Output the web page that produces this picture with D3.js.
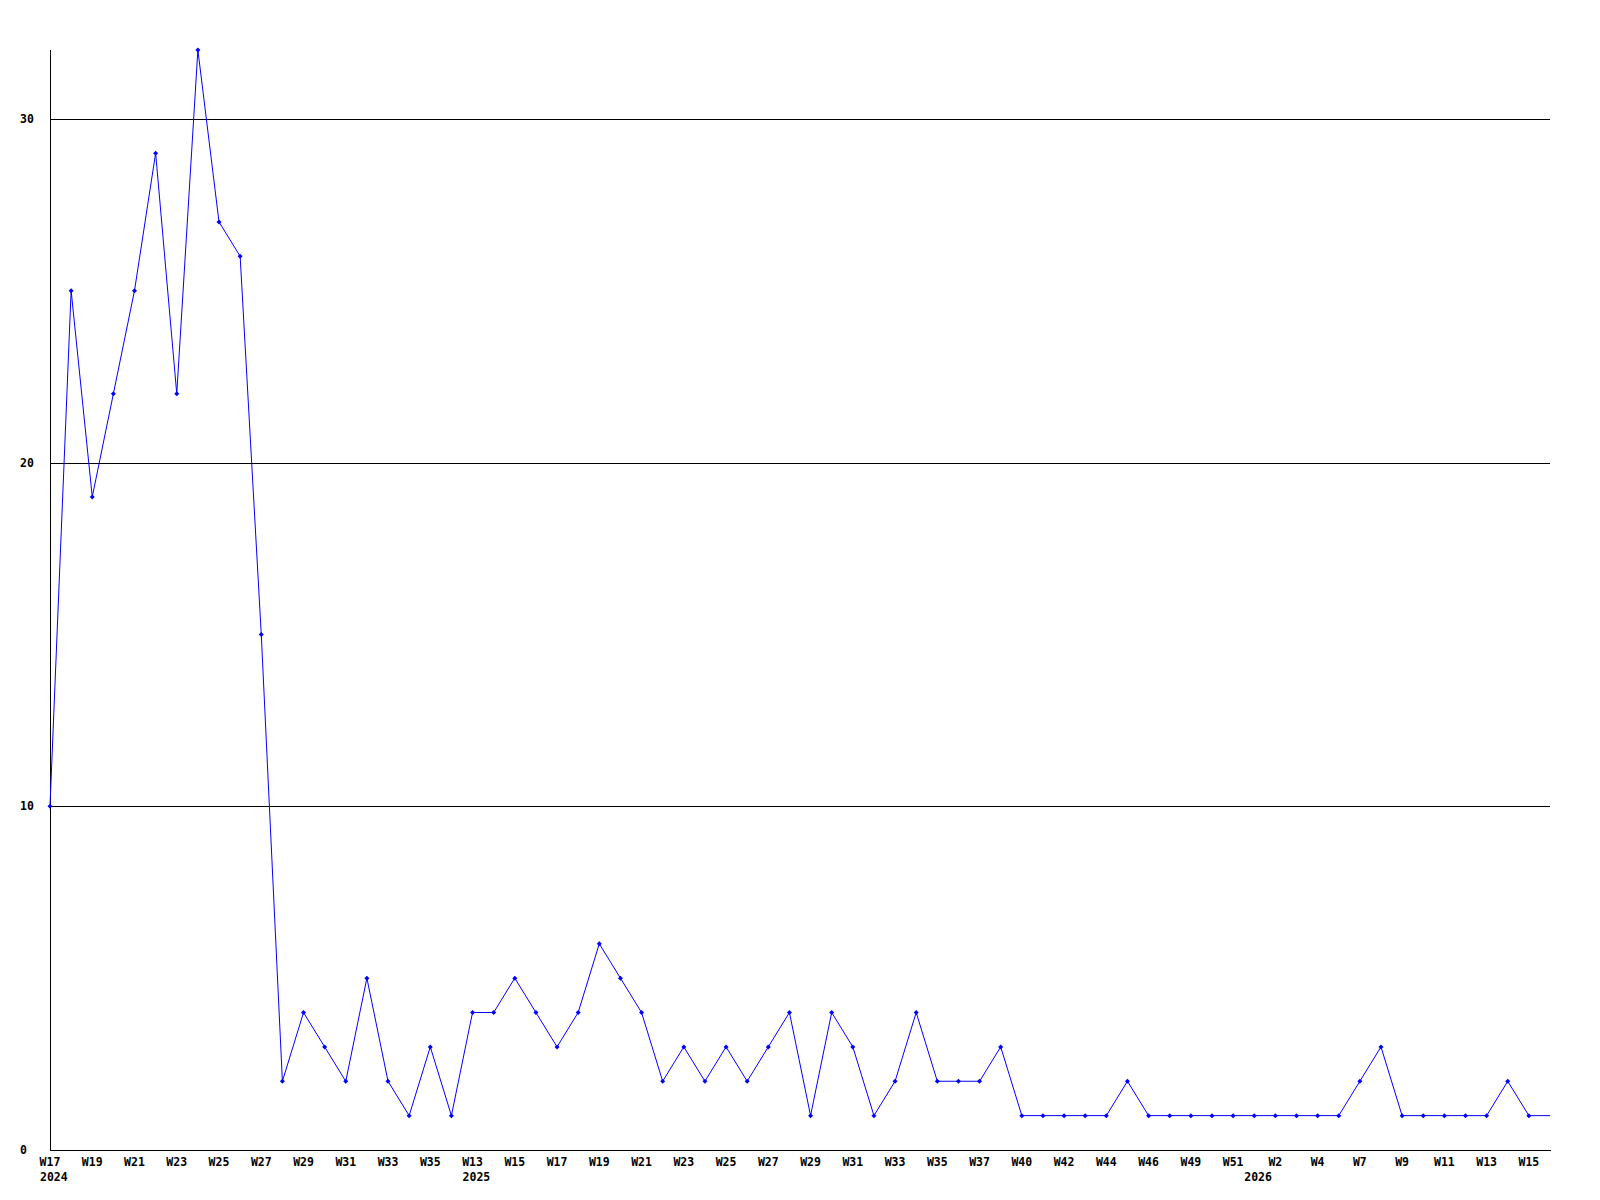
<!DOCTYPE html>
<meta charset="utf-8">
<style>
body { margin: 0; background: #fff; }
.lbl { font: bold 11.5px "DejaVu Sans Mono", monospace; fill: #000; }
</style>
<body>
<script src="https://cdn.jsdelivr.net/npm/d3@7/dist/d3.min.js"></script>
<script>

var WIDTH = 1600;
var HEIGHT = 1200;

// one entry per week that has data (missing weeks are skipped)
var weeks = ['W17','W18','W19','W20','W21','W22','W23','W24','W25','W26',
             'W27','W28','W29','W30','W31','W32','W33','W34','W35','W36',
             'W13','W14','W15','W16','W17','W18','W19','W20','W21','W22',
             'W23','W24','W25','W26','W27','W28','W29','W30','W31','W32',
             'W33','W34','W35','W36','W37','W39','W40','W41','W42','W43',
             'W44','W45','W46','W48','W49','W50','W51','W1','W2','W3',
             'W4','W6','W7','W8','W9','W10','W11','W12','W13','W14',
             'W15','W16'];
var years = [2024,2024,2024,2024,2024,2024,2024,2024,2024,2024,
             2024,2024,2024,2024,2024,2024,2024,2024,2024,2024,
             2025,2025,2025,2025,2025,2025,2025,2025,2025,2025,
             2025,2025,2025,2025,2025,2025,2025,2025,2025,2025,
             2025,2025,2025,2025,2025,2025,2025,2025,2025,2025,
             2025,2025,2025,2025,2025,2025,2025,2026,2026,2026,
             2026,2026,2026,2026,2026,2026,2026,2026,2026,2026,
             2026,2026];
var values = [10,25,19,22,25,29,22,32,27,26,
              15,2,4,3,2,5,2,1,3,1,
              4,4,5,4,3,4,6,5,4,2,
              3,2,3,2,3,4,1,4,3,1,
              2,4,2,2,2,3,1,1,1,1,
              1,2,1,1,1,1,1,1,1,1,
              1,1,2,3,1,1,1,1,1,2,
              1,1];
var yTicks = [0, 10, 20, 30];

var LEFT = 50, RIGHT = 1550, TOP = 50, BOTTOM = 1150;

var svg = d3.select('body').append('svg')
    .attr('width', WIDTH)
    .attr('height', HEIGHT);

var x = d3.scaleLinear().domain([0, values.length - 1]).range([LEFT, RIGHT]);
var y = d3.scaleLinear().domain([0, 32]).range([BOTTOM, TOP]);

// horizontal grid lines
svg.selectAll('.grid')
    .data(yTicks.filter(function(d) { return d > 0; }))
    .enter().append('line')
    .attr('x1', LEFT).attr('x2', RIGHT)
    .attr('y1', function(d) { return Math.round(y(d)) + 0.5; })
    .attr('y2', function(d) { return Math.round(y(d)) + 0.5; })
    .attr('stroke', '#000')
    .attr('stroke-width', 1);

// axes lines
svg.append('line')
    .attr('x1', LEFT + 0.5).attr('x2', LEFT + 0.5)
    .attr('y1', TOP).attr('y2', BOTTOM)
    .attr('stroke', '#000');
svg.append('line')
    .attr('x1', LEFT).attr('x2', RIGHT + 1)
    .attr('y1', BOTTOM + 0.5).attr('y2', BOTTOM + 0.5)
    .attr('stroke', '#000');

// y tick labels (left aligned)
svg.selectAll('.ylab')
    .data(yTicks)
    .enter().append('text')
    .attr('class', 'lbl')
    .attr('x', 20)
    .attr('y', function(d) { return y(d) + 4; })
    .text(function(d) { return d; });

// x labels: every second week
var idx = d3.range(0, values.length, 2);
svg.selectAll('.xlab')
    .data(idx)
    .enter().append('text')
    .attr('class', 'lbl')
    .attr('x', function(i) { return x(i); })
    .attr('y', 1166)
    .attr('text-anchor', 'middle')
    .text(function(i) { return weeks[i]; });

// year labels at the first week of each year
var yearIdx = d3.range(values.length).filter(function(i) {
  return i === 0 || years[i] !== years[i - 1];
});
svg.selectAll('.yearlab')
    .data(yearIdx)
    .enter().append('text')
    .attr('class', 'lbl')
    .attr('x', function(i) { return x(i) - 10; })
    .attr('y', 1181)
    .text(function(i) { return years[i]; });

// series line
var line = d3.line()
    .x(function(d, i) { return x(i); })
    .y(function(d) { return y(d); });
svg.append('path')
    .datum(values)
    .attr('d', line)
    .attr('fill', 'none')
    .attr('stroke', '#0000ff')
    .attr('stroke-width', 1);

// point markers (the last, still running week has none)
svg.selectAll('.pt')
    .data(values.slice(0, -1))
    .enter().append('path')
    .attr('d', function(d, i) {
      var cx = x(i), cy = y(d), r = 2.5;
      return 'M' + cx + ',' + (cy - r) + 'L' + (cx + r) + ',' + cy +
             'L' + cx + ',' + (cy + r) + 'L' + (cx - r) + ',' + cy + 'Z';
    })
    .attr('fill', '#0000ff');

</script>
